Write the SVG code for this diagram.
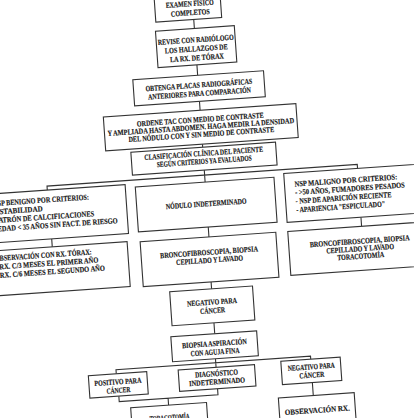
<svg xmlns="http://www.w3.org/2000/svg" width="414" height="418" viewBox="0 0 414 418">
<style>
.b{fill:#fff;stroke:#333;stroke-width:1.1}
.c{fill:none;stroke:#333;stroke-width:1.1}
.t{font-family:"Liberation Serif","Times New Roman",serif;font-weight:bold;font-size:7.8px;fill:#151515;stroke:#151515;stroke-width:0.15;text-anchor:middle}
.l{text-anchor:start}
</style>
<rect width="414" height="418" fill="#fff"/>
<g transform="rotate(-4 207 209)">
<g id="connectors">
<path class="c" d="M207 19V28M207 64.5V75M207 101V110M207 144V147M207 170V182M49 179V175H360V179M207 227V237M50 228V236M360 228V237M206 282V289M206 323V334M205 359V367.5M105 367V363H300V366M106 389.5V395H205V389M155 395V402M300 389.5V402.5"/>
</g>
<g id="n1"><rect class="b" x="169" y="-25" width="66" height="44"/>
<text class="t" x="204" y="5.6" textLength="48" lengthAdjust="spacingAndGlyphs">EXAMEN FÍSICO</text>
<text class="t" x="204" y="14.6" textLength="39" lengthAdjust="spacingAndGlyphs">COMPLETOS</text></g>
<g id="n2"><rect class="b" x="168" y="28" width="79" height="36.5"/>
<text class="t" x="207.5" y="42" textLength="76" lengthAdjust="spacingAndGlyphs">REVISE CON RADIÓLOGO</text>
<text class="t" x="207.5" y="51" textLength="63" lengthAdjust="spacingAndGlyphs">LOS HALLAZGOS DE</text>
<text class="t" x="207.5" y="60" textLength="54" lengthAdjust="spacingAndGlyphs">LA RX. DE TÓRAX</text></g>
<g id="n3"><rect class="b" x="142" y="75" width="131" height="26"/>
<text class="t" x="207.5" y="87.3" textLength="107" lengthAdjust="spacingAndGlyphs">OBTENGA PLACAS RADIOGRÁFICAS</text>
<text class="t" x="207.5" y="95.8" textLength="103" lengthAdjust="spacingAndGlyphs">ANTERIORES PARA COMPARACIÓN</text></g>
<g id="n4"><rect class="b" x="110" y="110" width="193" height="34"/>
<text class="t" x="206.5" y="121.8" textLength="127" lengthAdjust="spacingAndGlyphs">ORDENE TAC CON MEDIO DE CONTRASTE</text>
<text class="t" x="206.5" y="129.3" textLength="187" lengthAdjust="spacingAndGlyphs">Y AMPLIADA HASTA ABDOMEN. HAGA MEDIR LA DENSIDAD</text>
<text class="t" x="206.5" y="136.8" textLength="146" lengthAdjust="spacingAndGlyphs">DEL NÓDULO CON Y SIN MEDIO DE CONTRASTE</text></g>
<g id="n5"><rect class="b" x="135" y="147" width="145" height="23"/>
<text class="t" x="207.5" y="155.8" textLength="119" lengthAdjust="spacingAndGlyphs">CLASIFICACIÓN CLÍNICA DEL PACIENTE</text>
<text class="t" x="207.5" y="163.8" textLength="95" lengthAdjust="spacingAndGlyphs">SEGÚN CRITERIOS YA EVALUADOS</text></g>
<g id="benigno"><rect class="b" x="-20" y="179" width="147" height="49"/>
<text class="t l" x="-6" y="191.3" textLength="96" lengthAdjust="spacingAndGlyphs">NSP BENIGNO POR CRITERIOS:</text>
<text class="t l" x="-9" y="199.8" textLength="52" lengthAdjust="spacingAndGlyphs">- ESTABILIDAD</text>
<text class="t l" x="-9" y="208.3" textLength="103" lengthAdjust="spacingAndGlyphs">- PATRÓN DE CALCIFICACIONES</text>
<text class="t l" x="-7" y="216.8" textLength="124" lengthAdjust="spacingAndGlyphs">- EDAD &lt; 35 AÑOS SIN FACT. DE RIESGO</text></g>
<g id="indeterminado"><rect class="b" x="137" y="182" width="139" height="45"/>
<text class="t" x="206.5" y="206.3" textLength="81" lengthAdjust="spacingAndGlyphs">NÓDULO INDETERMINADO</text></g>
<g id="maligno"><rect class="b" x="286" y="179" width="150" height="49"/>
<text class="t l" x="296" y="192.8" textLength="103" lengthAdjust="spacingAndGlyphs">NSP MALIGNO POR CRITERIOS:</text>
<text class="t l" x="296" y="201.3" textLength="110" lengthAdjust="spacingAndGlyphs">- &gt;50 AÑOS, FUMADORES PESADOS</text>
<text class="t l" x="296" y="210" textLength="96" lengthAdjust="spacingAndGlyphs">- NSP DE APARICIÓN RECIENTE</text>
<text class="t l" x="296" y="218.8" textLength="89" lengthAdjust="spacingAndGlyphs">- APARIENCIA "ESPICULADO"</text></g>
<g id="observacion"><rect class="b" x="-20" y="236" width="145" height="45"/>
<text class="t l" x="-8" y="246.3" textLength="97" lengthAdjust="spacingAndGlyphs">OBSERVACIÓN CON RX. TÓRAX:</text>
<text class="t l" x="-8" y="254.8" textLength="103" lengthAdjust="spacingAndGlyphs">- RX. C/3 MESES EL PRIMER AÑO</text>
<text class="t l" x="-8" y="263.3" textLength="109" lengthAdjust="spacingAndGlyphs">- RX. C/6 MESES EL SEGUNDO AÑO</text></g>
<g id="bronco1"><rect class="b" x="138" y="237" width="136" height="45"/>
<text class="t" x="206" y="254.8" textLength="98" lengthAdjust="spacingAndGlyphs">BRONCOFIBROSCOPIA, BIOPSIA</text>
<text class="t" x="206" y="262.8" textLength="67" lengthAdjust="spacingAndGlyphs">CEPILLADO Y LAVADO</text></g>
<g id="bronco2"><rect class="b" x="286" y="237" width="150" height="44"/>
<text class="t" x="357" y="254.3" textLength="100" lengthAdjust="spacingAndGlyphs">BRONCOFIBROSCOPIA, BIOPSIA</text>
<text class="t" x="357" y="261.8" textLength="68" lengthAdjust="spacingAndGlyphs">CEPILLADO Y LAVADO</text>
<text class="t" x="357" y="269.3" textLength="47" lengthAdjust="spacingAndGlyphs">TORACOTOMÍA</text></g>
<g id="negativo1"><rect class="b" x="164" y="289" width="83" height="34"/>
<text class="t" x="205.5" y="304.8" textLength="50" lengthAdjust="spacingAndGlyphs">NEGATIVO PARA</text>
<text class="t" x="205.5" y="313.3" textLength="25" lengthAdjust="spacingAndGlyphs">CÁNCER</text></g>
<g id="biopsia"><rect class="b" x="162" y="334" width="86" height="25"/>
<text class="t" x="205" y="346.3" textLength="65" lengthAdjust="spacingAndGlyphs">BIOPSIA ASPIRACIÓN</text>
<text class="t" x="205" y="354.8" textLength="49" lengthAdjust="spacingAndGlyphs">CON AGUJA FINA</text></g>
<g id="positivo"><rect class="b" x="77" y="367" width="58.5" height="22.5"/>
<text class="t" x="106" y="377.8" textLength="47" lengthAdjust="spacingAndGlyphs">POSITIVO PARA</text>
<text class="t" x="106" y="386.3" textLength="24" lengthAdjust="spacingAndGlyphs">CÁNCER</text></g>
<g id="diagnostico"><rect class="b" x="167" y="367.5" width="76.5" height="21.5"/>
<text class="t" x="205" y="376.3" textLength="43" lengthAdjust="spacingAndGlyphs">DIAGNÓSTICO</text>
<text class="t" x="205" y="384.6" textLength="56" lengthAdjust="spacingAndGlyphs">INDETERMINADO</text></g>
<g id="negativo2"><rect class="b" x="270" y="366" width="59.5" height="23.5"/>
<text class="t" x="300" y="376.3" textLength="47" lengthAdjust="spacingAndGlyphs">NEGATIVO PARA</text>
<text class="t" x="300" y="384.6" textLength="25" lengthAdjust="spacingAndGlyphs">CÁNCER</text></g>
<g id="toracotomia"><rect class="b" x="117" y="402" width="76" height="40"/>
<text class="t" x="155" y="417" textLength="40" lengthAdjust="spacingAndGlyphs">TORACOTOMÍA</text></g>
<g id="observacion2"><rect class="b" x="265" y="402.5" width="76" height="40"/>
<text class="t" x="303" y="420" textLength="65" lengthAdjust="spacingAndGlyphs">OBSERVACIÓN RX.</text></g>
</g>
</svg>
